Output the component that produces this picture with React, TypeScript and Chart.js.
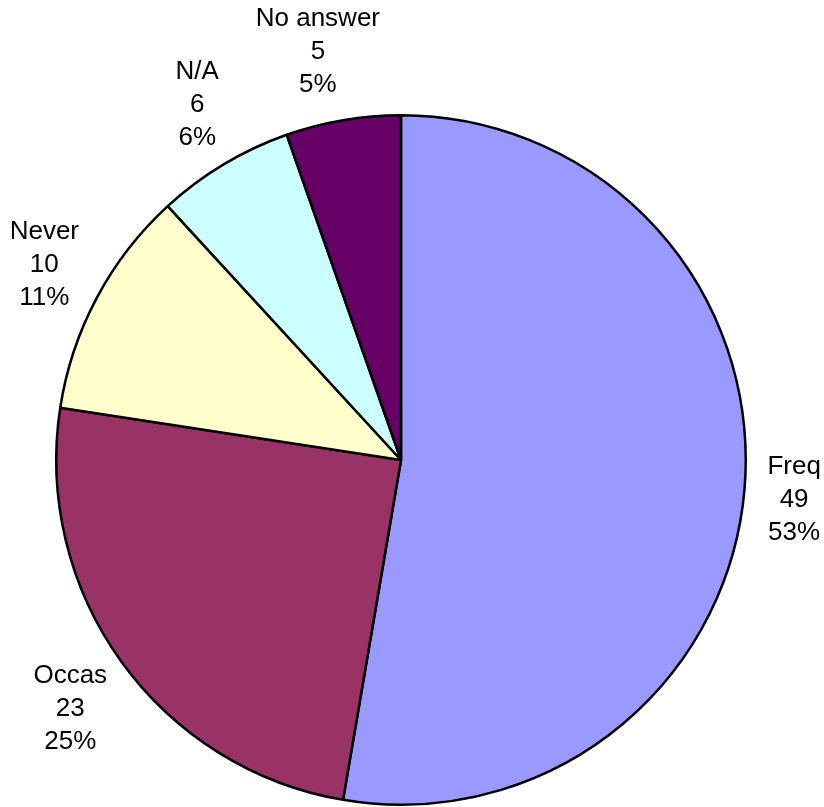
import React, { useEffect, useRef } from "react";
import { Chart, registerables } from "chart.js";

Chart.register(...registerables);

const categories = ["Freq", "Occas", "Never", "N/A", "No answer"];
const values = [49, 23, 10, 6, 5];
const colors = ["#9999FF", "#993366", "#FFFFCC", "#CCFFFF", "#660066"];

const FONT = "26px 'Liberation Sans', Arial, sans-serif";
const LINE_H = 33;

const labelPlugin = {
  id: "outsideLabels",
  afterDraw(chart: any) {
    const ctx = chart.ctx;
    const meta = chart.getDatasetMeta(0);
    const total = values.reduce((a, b) => a + b, 0);
    ctx.save();
    ctx.font = FONT;
    ctx.fillStyle = "#000";
    ctx.textAlign = "center";
    ctx.textBaseline = "middle";
    meta.data.forEach((arc: any, i: number) => {
      const { startAngle, endAngle, outerRadius, x, y } = arc.getProps(
        ["startAngle", "endAngle", "outerRadius", "x", "y"],
        true
      );
      const mid = (startAngle + endAngle) / 2;
      const dx = Math.cos(mid);
      const dy = Math.sin(mid);
      const lines = [
        categories[i],
        String(values[i]),
        Math.round((values[i] / total) * 100) + "%",
      ];
      const w = Math.max(...lines.map((l) => ctx.measureText(l).width));
      const h = lines.length * LINE_H;
      const d = outerRadius + 23;
      const sx = Math.sign(dx) * Math.pow(Math.abs(dx), 0.6);
      const sy = Math.sign(dy) * Math.pow(Math.abs(dy), 0.9);
      const cx = x + dx * d + (sx * w) / 2;
      const cy = y + dy * d + (sy * h) / 2 + 3;
      lines.forEach((l, k) => {
        ctx.fillText(l, cx, cy - h / 2 + LINE_H / 2 + k * LINE_H);
      });
    });
    ctx.restore();
  },
};

export default function App() {
  const ref = useRef<HTMLCanvasElement | null>(null);
  useEffect(() => {
    if (!ref.current) return;
    const chart = new Chart(ref.current, {
      type: "pie",
      data: {
        labels: categories,
        datasets: [
          {
            data: values,
            backgroundColor: colors,
            borderColor: "#000000",
            borderWidth: 2.5,
            hoverOffset: 0,
          },
        ],
      },
      options: {
        responsive: false,
        animation: false,
        events: [],
        layout: { padding: { left: 55, right: 77, top: 114, bottom: 1 } },
        plugins: {
          legend: { display: false },
          tooltip: { enabled: false },
        },
      },
      plugins: [labelPlugin],
    });
    return () => chart.destroy();
  }, []);
  return (
    <div style={{ position: "absolute", left: 0, top: 0, width: 824, height: 807, background: "#fff" }}>
      <canvas ref={ref} width={824} height={807} style={{ display: "block" }} />
    </div>
  );
}
